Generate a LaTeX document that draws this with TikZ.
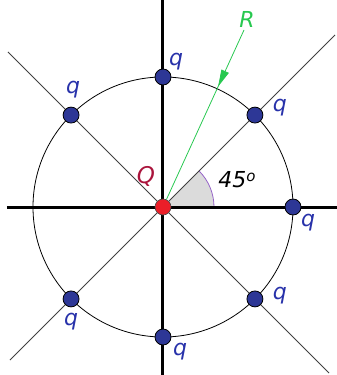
\documentclass[tikz,border=0pt]{standalone}
\usepackage{fontspec}
\setmainfont{DejaVu Sans}
\usepackage{xcolor}
\usetikzlibrary{arrows.meta,calc}
\definecolor{qblue}{RGB}{40,50,170}
\definecolor{qfill}{RGB}{45,55,150}
\definecolor{Qred}{RGB}{170,20,60}
\definecolor{Rgreen}{RGB}{40,200,80}
\definecolor{dotred}{RGB}{235,30,40}
\definecolor{arcpurple}{RGB}{150,100,200}

\begin{document}
\begin{tikzpicture}[
    x=1pt, y=1pt,
    charge/.style={circle, draw=black, line width=0.8pt, fill=qfill,
                   minimum size=16pt, inner sep=0pt},
    center/.style={circle, draw=black!70, line width=0.6pt, fill=dotred,
                   minimum size=16pt, inner sep=0pt},
    qlbl/.style={font=\fontsize{22}{24}\selectfont\itshape, text=qblue, inner sep=0pt},
    axis/.style={line width=3pt, black},
    diag/.style={line width=0.8pt, black!75},
    rline/.style={line width=0.8pt, Rgreen}
]
\useasboundingbox (-163,-168) rectangle (174,207);

% --- End points of the lines ---
\coordinate (xl) at (-156,0);
\coordinate (xr) at (174,0);
\coordinate (yt) at (0,207);
\coordinate (yb) at (0,-168);
\coordinate (dtl) at (-155,155);
\coordinate (dbr) at (166,-166);
\coordinate (dbl) at (-153,-153);
\coordinate (dtr) at (172,172);
\coordinate (rtop) at (81,177);

% --- Angle wedge ---
\fill[black!14] (0,0) -- (51,0) arc[start angle=0, end angle=45, radius=51] -- cycle;
\draw[arcpurple, line width=0.8pt] (51,0) arc[start angle=0, end angle=45, radius=51];

% --- Circle, diagonals and axes ---
\draw[line width=0.8pt] (0,0) circle[radius=130];
\draw[diag] (dtl) -- (dbr);
\draw[diag] (dbl) -- (dtr);
\draw[axis] (xl) -- (xr);
\draw[axis] (yt) -- (yb);

% --- Charges ---
\node[center] (Q) at (0,0) {};
\node[charge] (qt)  at (90:130)  {};
\node[charge] (qtr) at (45:130)  {};
\node[charge] (qr)  at (0:130)   {};
\node[charge] (qbr) at (-45:130) {};
\node[charge] (qb)  at (-90:130) {};
\node[charge] (qbl) at (225:130) {};
\node[charge] (qtl) at (135:130) {};

% --- Radius R ---
\draw[rline, -{Triangle[length=17pt, width=8pt]}] (rtop) -- ($(rtop)!0.32!(Q)$);
\draw[rline] ($(rtop)!0.3!(Q)$) -- (Q);
\node[font=\fontsize{22}{24}\selectfont\itshape, text=Rgreen, inner sep=0pt] (Rl) at (84,188) {R};

% --- Labels ---
\node[font=\fontsize{23}{25}\selectfont\itshape, text=Qred, inner sep=0pt] (Ql) at (-17,31) {Q};
\node[font=\fontsize{22}{24}\selectfont\itshape, inner sep=0pt] (ang) at (74,27)
  {45\raisebox{6pt}{\fontsize{15}{16}\selectfont o}};
\node[qlbl, xshift=13pt, yshift=15pt] at (qt)  {q};
\node[qlbl, xshift=25pt, yshift=7pt]  at (qtr) {q};
\node[qlbl, xshift=15pt, yshift=-16pt] at (qr) {q};
\node[qlbl, xshift=25pt, yshift=3pt]  at (qbr) {q};
\node[qlbl, xshift=17pt, yshift=-15pt] at (qb) {q};
\node[qlbl, xshift=0pt, yshift=-23pt] at (qbl) {q};
\node[qlbl, xshift=2pt, yshift=25pt]  at (qtl) {q};
\end{tikzpicture}
\end{document}
